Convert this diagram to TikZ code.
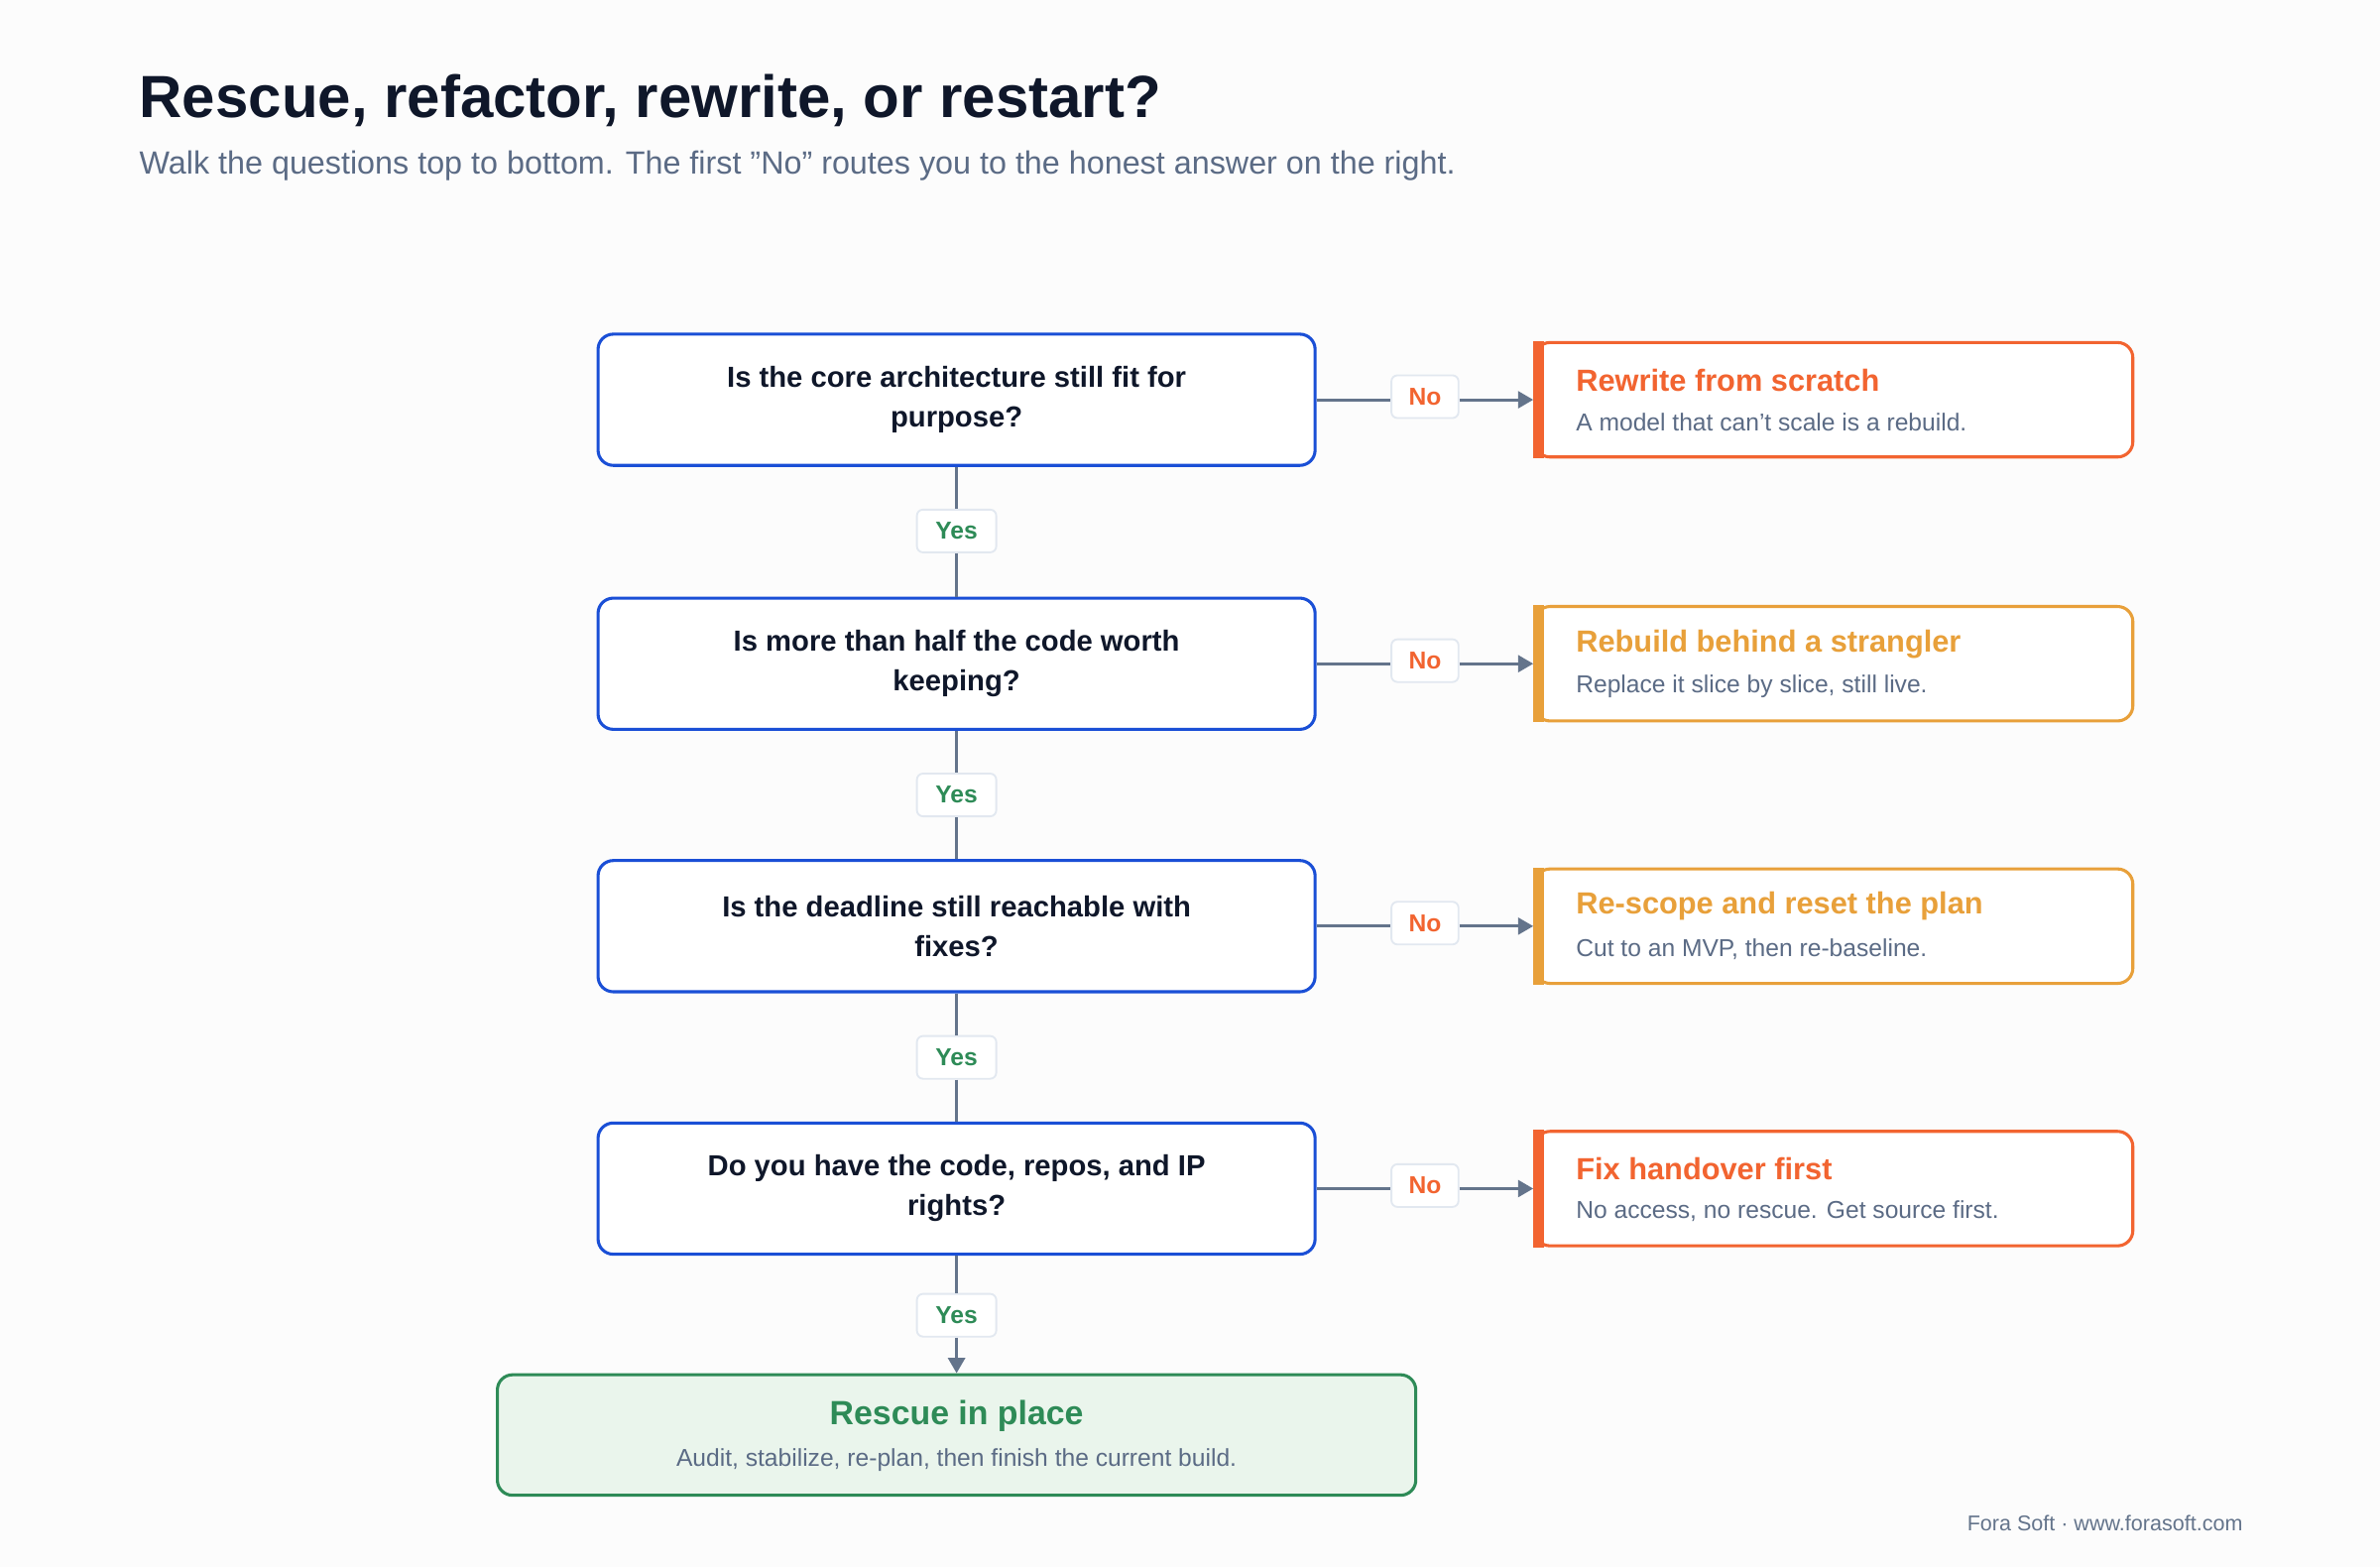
\documentclass[tikz,border=0pt]{standalone}
\usepackage{fontspec}
\setmainfont{Liberation Sans}
\usetikzlibrary{arrows.meta}
\definecolor{ink}{HTML}{0F172A}
\definecolor{sub}{HTML}{5B6B85}
\definecolor{blu}{HTML}{1A4FD6}
\definecolor{grn}{HTML}{2E8B57}
\definecolor{gfill}{HTML}{EAF5EC}
\definecolor{org}{HTML}{F26430}
\definecolor{amb}{HTML}{E8A03A}
\definecolor{line}{HTML}{64748B}
\definecolor{pill}{HTML}{E2E8F0}
\begin{document}
\begin{tikzpicture}[x=0.5pt,y=-0.5pt,
 q/.style={draw=blu,line width=1pt,rounded corners=5pt,fill=white,minimum width=235pt,minimum height=43pt,align=center,font=\fontsize{9.5}{13}\selectfont\bfseries,text=ink},
 ans/.style={draw=#1,line width=1pt,rounded corners=5pt,fill=white,minimum width=196pt,minimum height=37.5pt},
 yes/.style={draw=pill,line width=0.6pt,rounded corners=2pt,fill=white,minimum width=26pt,minimum height=14pt,inner sep=0pt,font=\fontsize{8}{9}\selectfont\bfseries,text=grn},
 no/.style={draw=pill,line width=0.6pt,rounded corners=2pt,fill=white,minimum width=22pt,minimum height=14pt,inner sep=0pt,font=\fontsize{8}{9}\selectfont\bfseries,text=org},
 conn/.style={draw=line,line width=1pt},
 arr/.style={conn,-{Triangle[length=5pt,width=5.5pt]}},
 at/.style={anchor=west,font=\fontsize{10}{12}\selectfont\bfseries,text=#1},
 as/.style={anchor=west,font=\fontsize{8}{10}\selectfont,text=sub}]
\fill[white!98!gray] (0,0) rectangle (1560,1027);
\useasboundingbox (0,0) rectangle (1560,1027);
\node[anchor=base west,inner sep=0,font=\fontsize{19.5}{22}\selectfont\bfseries,text=ink] (title) at (91,77) {Rescue, refactor, rewrite, or restart?};
\node[anchor=base west,inner sep=0,font=\fontsize{10.5}{12}\selectfont,text=sub] (subt) at (91,114) {Walk the questions top to bottom. The first "No" routes you to the honest answer on the right.};

\node[q] (q1) at (627,262) {Is the core architecture still fit for\\purpose?};
\node[q] (q2) at (627,435) {Is more than half the code worth\\keeping?};
\node[q] (q3) at (627,607) {Is the deadline still reachable with\\fixes?};
\node[q] (q4) at (627,779) {Do you have the code, repos, and IP\\rights?};

\foreach \i/\y/\c/\t/\s in {1/262/org/Rewrite from scratch/A model that can't scale is a rebuild.,
 2/435/amb/Rebuild behind a strangler/{Replace it slice by slice, still live.},
 3/607/amb/Re-scope and reset the plan/{Cut to an MVP, then re-baseline.},
 4/779/org/Fix handover first/{No access, no rescue. Get source first.}}{
 \node[ans=\c] (a\i) at (1202,\y) {};
 \fill[\c] (a\i.north west) rectangle ([xshift=3.5pt]a\i.south west);
 \node[at=\c] (at\i) at (1026,\y-13) {\t};
 \node[as] (as\i) at (1026,\y+15) {\s};
 \node[no] (n\i) at (934,\y-2) {No};
 \draw[conn] (q\i.east) -- (q\i.east -| n\i.west);
 \draw[arr] (n\i.east |- a\i.west) -- (a\i.west);
}

\node[draw=grn,line width=1pt,rounded corners=5pt,fill=gfill,minimum width=301pt,minimum height=39.5pt] (fin) at (627,940.5) {};
\node[font=\fontsize{11}{13}\selectfont\bfseries,text=grn] (ft) at (627,928) {Rescue in place};
\node[font=\fontsize{8}{10}\selectfont,text=sub] (fs) at (627,957) {Audit, stabilize, re-plan, then finish the current build.};

\node[yes] (y1) at (627,348) {Yes};
\node[yes] (y2) at (627,521) {Yes};
\node[yes] (y3) at (627,693) {Yes};
\node[yes] (y4) at (627,862) {Yes};
\draw[conn] (q1) -- (y1); \draw[conn] (y1) -- (q2);
\draw[conn] (q2) -- (y2); \draw[conn] (y2) -- (q3);
\draw[conn] (q3) -- (y3); \draw[conn] (y3) -- (q4);
\draw[conn] (q4) -- (y4); \draw[arr] (y4) -- (fin);

\node[anchor=east,font=\fontsize{7}{9}\selectfont,text=line] (foot) at (1477,998) {Fora Soft · www.forasoft.com};
\end{tikzpicture}
\end{document}
